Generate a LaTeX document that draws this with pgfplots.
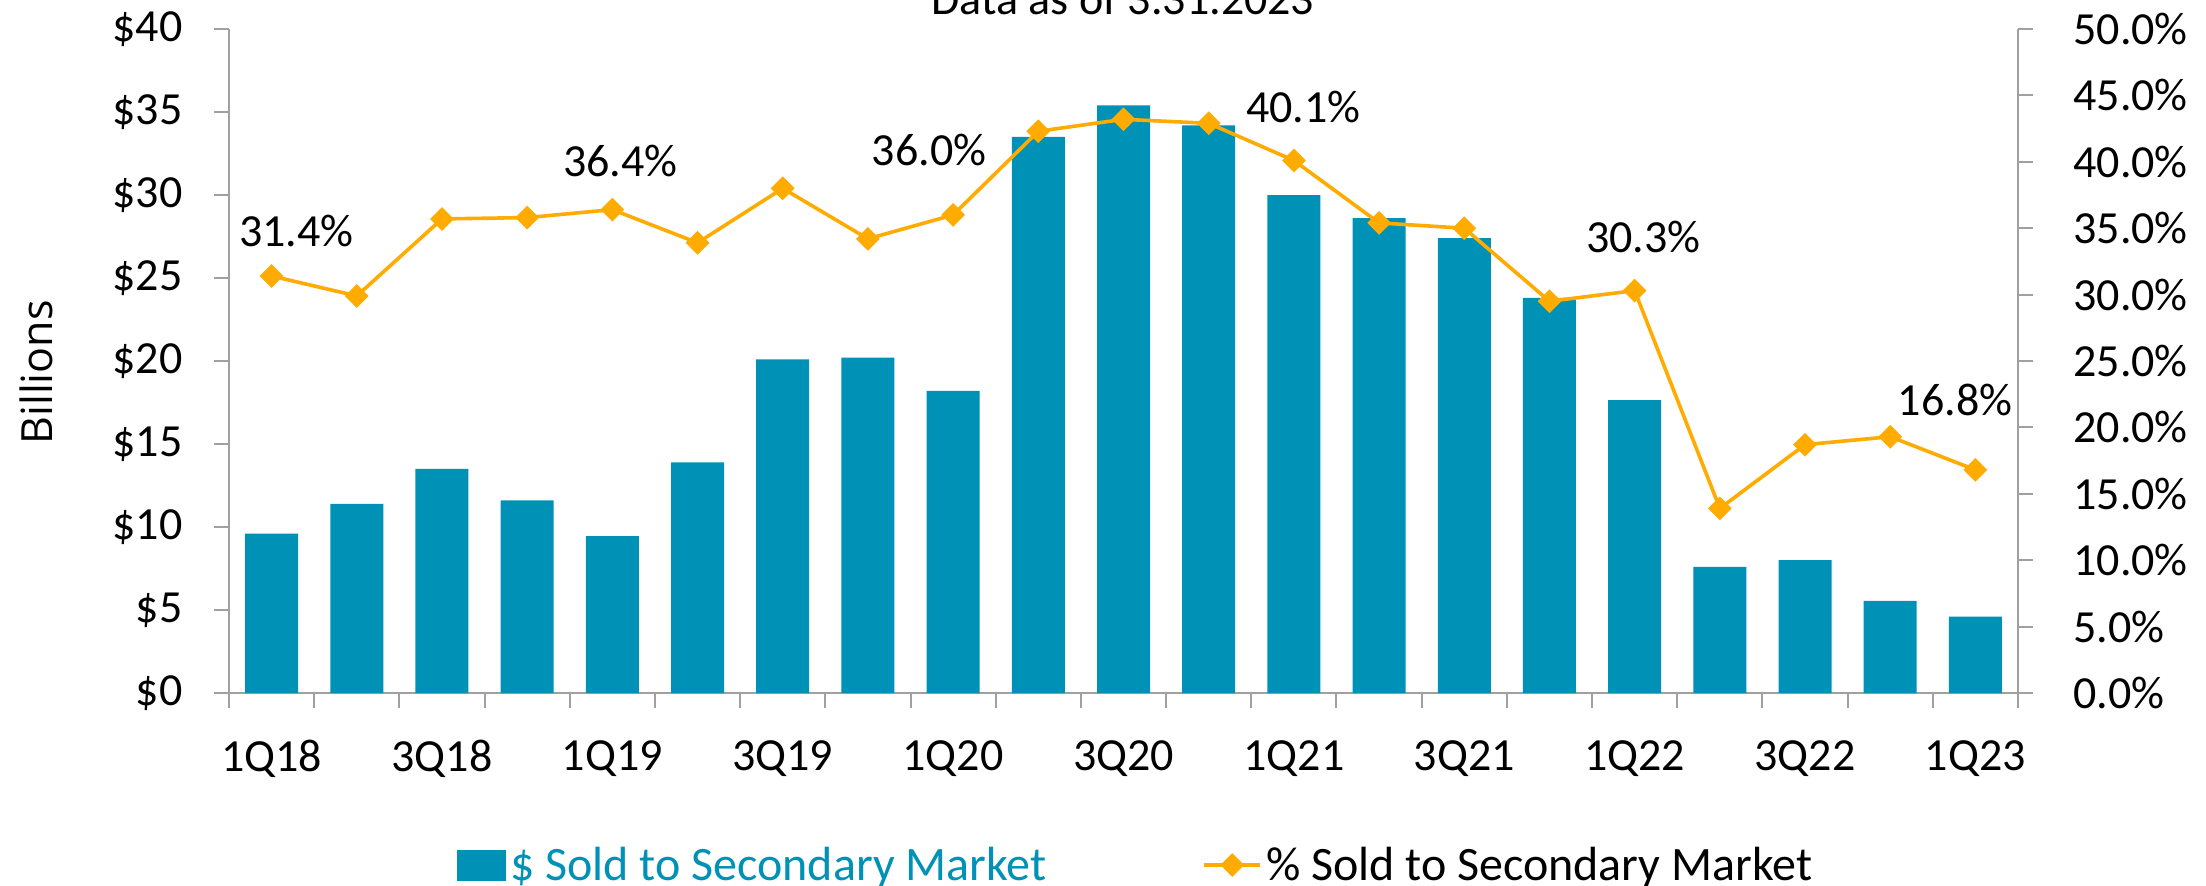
\documentclass[border=0pt]{standalone}
\usepackage{pgfplots}
\pgfplotsset{compat=1.18}
\usepackage{fontspec}
\setmainfont{Carlito}
\newfontfamily\billfont{Open Sans}
\definecolor{barc}{RGB}{0,145,183}
\definecolor{linec}{RGB}{255,171,0}
\definecolor{axgray}{RGB}{160,160,160}
\newcommand{\bigf}{\fontsize{23}{27}\selectfont}
\pgfplotsset{linelegend/.style={legend image code/.code={\draw[mark repeat=2,mark phase=2,##1] plot coordinates {(0pt,0pt) (14pt,0pt) (28pt,0pt)};}}}
\begin{document}
\begin{tikzpicture}
\begin{axis}[
  at={(0,0)}, anchor=south west,
  scale only axis, width=894.5pt, height=332pt,
  xmin=-0.5, xmax=20.5, ymin=0, ymax=40,
  axis x line*=bottom, axis y line*=left,
  axis line style={draw=axgray, line width=1pt},
  ybar, bar width=26.5pt,
  ytick={0,5,...,40},
  yticklabels={\$0,\$5,\$10,\$15,\$20,\$25,\$30,\$35,\$40},
  xtick={0,2,...,20},
  xticklabels={1Q18,3Q18,1Q19,3Q19,1Q20,3Q20,1Q21,3Q21,1Q22,3Q22,1Q23},
  minor xtick={-0.5,0.5,...,20.5},
  tick align=outside,
  major tick length=7.5pt, minor tick length=7.5pt,
  major x tick style={draw=none},
  minor x tick style={draw=axgray, line width=1pt},
  y tick style={draw=axgray, line width=1pt},
  tick label style={font=\bigf},
  yticklabel style={anchor=east, inner sep=0pt, xshift=-15.5pt},
  xticklabel style={anchor=north, inner sep=0pt, yshift=-16pt},
  ylabel={\billfont\fontsize{21.5}{25}\selectfont Billions},
  ylabel style={at={(axis description cs:-0.1075,0.4827)}, anchor=center, rotate=0},
]
\addplot[fill=barc, draw=none] coordinates {
(0,9.6) (1,11.4) (2,13.5) (3,11.6) (4,9.45) (5,13.9) (6,20.1) (7,20.2) (8,18.2) (9,33.5)
(10,35.4) (11,34.2) (12,30.0) (13,28.6) (14,27.4) (15,23.8) (16,17.65) (17,7.6) (18,8.0) (19,5.55) (20,4.6)};
\end{axis}
\begin{axis}[
  at={(0,0)}, anchor=south west,
  scale only axis, width=894.5pt, height=332pt,
  xmin=-0.5, xmax=20.5, ymin=0, ymax=50,
  axis y line*=right, axis x line=none,
  axis line style={draw=axgray, line width=1pt},
  ytick={0,5,...,50},
  yticklabels={0.0\%,5.0\%,10.0\%,15.0\%,20.0\%,25.0\%,30.0\%,35.0\%,40.0\%,45.0\%,50.0\%},
  tick align=outside, major tick length=7.5pt,
  y tick style={draw=axgray, line width=1pt},
  tick label style={font=\bigf},
  yticklabel style={anchor=west, inner sep=0pt, xshift=20pt},
  legend columns=2,
  legend style={draw=none, fill=none, at={(114pt,-86pt)}, anchor=west, font=\fontsize{24}{28}\selectfont,
    inner sep=0pt, nodes={inner sep=2pt},
    /tikz/every even column/.append style={column sep=76pt}},
]
\addlegendimage{legend image code/.code={\fill[barc] (0pt,-7.5pt) rectangle (24pt,7.5pt);}}
\addlegendentry{\textcolor{barc}{\$ Sold to Secondary Market}}
\addplot[color=linec, line width=1.8pt, mark=square*, mark size=3.3pt, mark options={rotate=45}, linelegend] coordinates {
(0,31.4) (1,29.9) (2,35.7) (3,35.8) (4,36.4) (5,33.9) (6,38.0) (7,34.2) (8,36.0) (9,42.3)
(10,43.2) (11,42.9) (12,40.1) (13,35.4) (14,35.0) (15,29.5) (16,30.3) (17,13.9) (18,18.7) (19,19.3) (20,16.8)};
\addlegendentry{\% Sold to Secondary Market}
\end{axis}
\begin{scope}[every node/.style={font=\bigf, anchor=base, inner sep=0pt}]
\node at (33.75pt,223.2pt) {31.4\%};
\node at (195.7pt,258.2pt) {36.4\%};
\node at (350.05pt,263.7pt) {36.0\%};
\node at (537.2pt,285.2pt) {40.1\%};
\node at (707.2pt,220.4pt) {30.3\%};
\node at (863.05pt,139pt) {16.8\%};
\node at (447pt,339pt) {Data as of 3.31.2023};
\end{scope}
\pgfresetboundingbox
\path[use as bounding box] (-114.5pt,-96pt) rectangle (988.5pt,346.5pt);
\end{tikzpicture}
\end{document}
